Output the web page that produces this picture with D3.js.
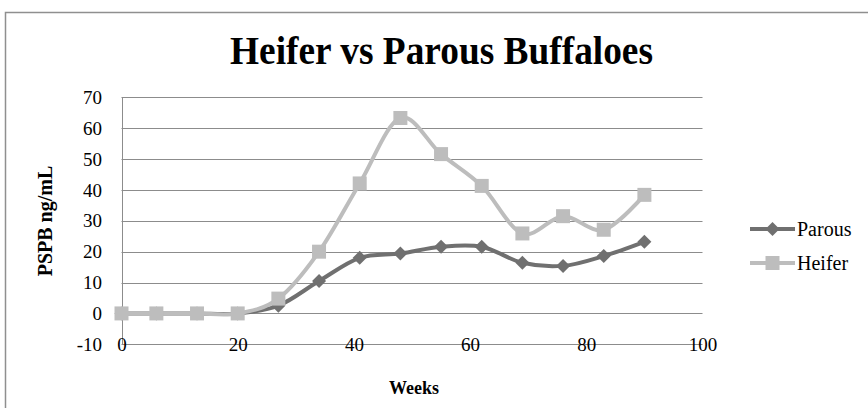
<!DOCTYPE html>
<html>
<head>
<meta charset="utf-8">
<script src="https://cdn.jsdelivr.net/npm/d3@7"></script>
<style>
  html, body { margin: 0; padding: 0; background: #fff; }
  svg { display: block; }
  text { font-family: "Liberation Serif", "Times New Roman", serif; fill: #000; }
</style>
</head>
<body>
<svg id="chart" width="868" height="408"></svg>
<script>
// Weeks after breeding and PSPB concentrations (ng/mL)
const weeks  = [0, 6, 13, 20, 27, 34, 41, 48, 55, 62, 69, 76, 83, 90];
const parous = [0, 0, 0, 0, 2.5, 10.5, 18.0, 19.4, 21.6, 21.6, 16.4, 15.4, 18.6, 23.2];
const heifer = [0, 0, 0, 0, 4.8, 20.0, 42.1, 63.3, 51.6, 41.3, 25.9, 31.5, 27.1, 38.4];
const seriesNames = ["Parous", "Heifer"];
const xTickValues = [0, 20, 40, 60, 80, 100];
const yTickValues = [-10, 0, 10, 20, 30, 40, 50, 60, 70];

const svg = d3.select("#chart");
const colors = { Parous: "#707070", Heifer: "#bdbdbd" };
const grid = "#8c8c8c";
const plain = d => String(d);   // hyphen-minus, as in the printed labels

const x = d3.scaleLinear().domain([0, 100]).range([121.5, 702.5]);
const y = d3.scaleLinear().domain([-10, 70]).range([344.3, 97.3]);

// chart frame
svg.append("rect")
  .attr("x", 5.5).attr("y", 12.5).attr("width", 880).attr("height", 410)
  .attr("fill", "none").attr("stroke", "#8f8f8f").attr("stroke-width", 1.5);

// title
svg.append("text")
  .attr("x", 441.5).attr("y", 64)
  .attr("text-anchor", "middle")
  .attr("font-size", 40).attr("font-weight", "bold")
  .attr("textLength", 423).attr("lengthAdjust", "spacingAndGlyphs")
  .text("Heifer vs Parous Buffaloes");

// horizontal gridlines (the lowest one doubles as the x axis line)
svg.append("g")
  .selectAll("line")
  .data(yTickValues)
  .join("line")
  .attr("x1", x(0)).attr("x2", x(100))
  .attr("y1", d => Math.round(y(d)) + 0.5).attr("y2", d => Math.round(y(d)) + 0.5)
  .attr("stroke", grid).attr("stroke-width", 1);

// vertical axis line
svg.append("line")
  .attr("x1", Math.round(x(0)) + 0.5).attr("x2", Math.round(x(0)) + 0.5)
  .attr("y1", y(70)).attr("y2", y(-10))
  .attr("stroke", grid).attr("stroke-width", 1);

// y tick labels
const yAxis = d3.axisLeft(y).tickValues(yTickValues).tickFormat(plain).tickSize(0).tickPadding(0);
const gy = svg.append("g").attr("transform", "translate(102,0)").call(yAxis);
gy.select(".domain").remove();
gy.selectAll("text")
  .attr("font-size", 19).attr("font-family", "'Liberation Serif', 'Times New Roman', serif")
  .attr("fill", "#000");

// x tick labels, centred on the bottom gridline
const xAxis = d3.axisBottom(x).tickValues(xTickValues).tickFormat(plain).tickSize(0).tickPadding(0);
const gx = svg.append("g").attr("transform", "translate(0," + y(-10) + ")").call(xAxis);
gx.select(".domain").remove();
gx.selectAll("text")
  .attr("y", 0).attr("dy", "0.34em")
  .attr("font-size", 19).attr("font-family", "'Liberation Serif', 'Times New Roman', serif")
  .attr("fill", "#000");

// axis titles
svg.append("text")
  .attr("transform", "translate(52,221) rotate(-90)")
  .attr("text-anchor", "middle")
  .attr("font-size", 20).attr("font-weight", "bold")
  .text("PSPB ng/mL");

svg.append("text")
  .attr("x", 414).attr("y", 394)
  .attr("text-anchor", "middle")
  .attr("font-size", 18).attr("font-weight", "bold")
  .text("Weeks");

// series
const data = {
  Parous: weeks.map((w, i) => ({ w, v: parous[i] })),
  Heifer: weeks.map((w, i) => ({ w, v: heifer[i] }))
};
const line = d3.line().x(d => x(d.w)).y(d => y(d.v)).curve(d3.curveCatmullRom.alpha(0));
const diamond = s => `M0,${-s}L${s},0L0,${s}L${-s},0Z`;
const square = s => `M${-s},${-s}H${s}V${s}H${-s}Z`;

function drawMarker(g, name, cx, cy) {
  g.append("path")
    .attr("transform", `translate(${cx},${cy})`)
    .attr("d", name === "Parous" ? diamond(7) : square(7))
    .attr("fill", colors[name]);
}

seriesNames.forEach(name => {
  const g = svg.append("g");
  g.append("path")
    .datum(data[name])
    .attr("d", line)
    .attr("fill", "none")
    .attr("stroke", colors[name])
    .attr("stroke-width", 4)
    .attr("stroke-linejoin", "round");
  data[name].forEach(d => drawMarker(g, name, x(d.w), y(d.v)));
});

// legend
const legendY = { Parous: 229, Heifer: 263 };
seriesNames.forEach(name => {
  const g = svg.append("g");
  g.append("line")
    .attr("x1", 750).attr("x2", 795)
    .attr("y1", legendY[name]).attr("y2", legendY[name])
    .attr("stroke", colors[name]).attr("stroke-width", 4);
  drawMarker(g, name, 772.5, legendY[name]);
  g.append("text")
    .attr("x", 797).attr("y", legendY[name]).attr("dy", "0.34em")
    .attr("font-size", 20)
    .text(name);
});
</script>
</body>
</html>
